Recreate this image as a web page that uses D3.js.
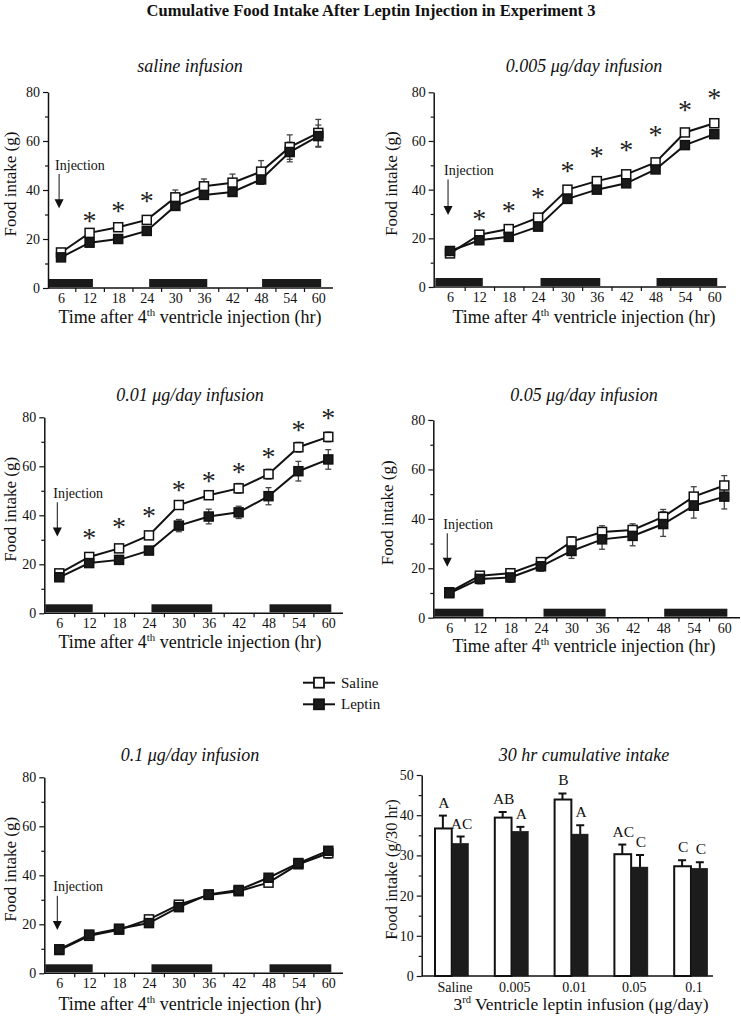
<!DOCTYPE html>
<html><head><meta charset="utf-8">
<script src="https://cdn.jsdelivr.net/npm/d3@7"></script>
<style>
body{margin:0;background:#fff}
svg{display:block}
text{font-family:"Liberation Serif","Times New Roman",serif;fill:#111}
</style>
</head><body>
<svg id="c" width="742" height="1020"></svg>
<script>
// ---------------- DATA ----------------
const hours = [6,12,18,24,30,36,42,48,54,60];
const xTickLabels = [6,12,18,24,30,36,42,48,54,60];
const xMinorTicks = [9,15,21,27,33,39,45,51,57];
const yTicks = [0,20,40,60,80];
const yMinorTicks = [10,30,50,70];
const panelTitles = ["saline infusion","0.005 \u03bcg/day infusion","0.01 \u03bcg/day infusion","0.05 \u03bcg/day infusion","0.1 \u03bcg/day infusion"];
const darkPeriods = [[3,12.7],[24.5,36.7],[48.2,60.6]];

// saline infusion
const saline1 = [14.5,22.5,24.8,27.8,37.0,41.5,43.0,47.5,57.5,63.3];
const leptin1 = [12.5,18.5,20.0,23.3,33.5,38.0,39.2,44.3,55.5,62.0];
const salineErr1 = [1,1.5,1.5,1.5,3,3,3.5,4.5,5,5.5];
const leptinErr1 = [1,1,1,1.5,1.5,1.5,1.5,2,4,4.5];
const starHours1 = [12,18,24];
const starY1 = [29,33,37];
// 0.005
const saline2 = [13.8,21.5,23.8,28.5,40.0,43.5,46.3,51.2,63.5,67.3];
const leptin2 = [14.8,19.2,20.6,24.8,36.2,40.0,42.6,48.3,58.3,62.8];
const salineErr2 = [0.8,1,1,1,1,1,1,1,1,1];
const leptinErr2 = [1,1,1,1,1,1,1,1,1,1];
const starHours2 = [12,18,24,30,36,42,48,54,60];
const starY2 = [29.6,32.8,38.6,49.3,55.4,57.9,64.1,74.5,79.2];
// 0.01
const saline3 = [16.3,23.0,26.5,31.8,44.2,48.2,51.0,56.8,67.8,72.0];
const leptin3 = [14.7,20.5,21.8,25.6,35.8,39.5,41.2,47.8,58.0,62.8];
const salineErr3 = [1,1,1,1,1,1.5,2,2,2,2];
const leptinErr3 = [1,1,1,1.5,2.5,3,2.5,3.5,4,4];
const starHours3 = [12,18,24,30,36,42,48,54,60];
const starY3 = [32.4,36.7,41.5,52.0,55.8,59.2,65.6,76.6,81.2];
// 0.05
const saline4 = [10.3,17.0,18.0,22.5,30.8,34.7,35.5,40.8,49.0,53.5];
const leptin4 = [9.9,15.7,16.3,20.8,27.0,31.7,33.1,37.9,45.3,49.0];
const salineErr4 = [1,1.5,1.5,1.5,2,2.5,2.5,3,4,4];
const leptinErr4 = [1,2,2,2,3,4,4,5,5,5];
const starHours4 = [];
const starY4 = [];
// 0.1
const saline5 = [9.5,15.3,17.8,22.0,28.0,32.0,33.5,37.0,44.5,49.0];
const leptin5 = [9.8,15.8,18.2,20.5,27.0,32.2,34.0,39.0,45.0,50.0];
const salineErr5 = [1,1,1,1,1,1,1,1,1.5,2];
const leptinErr5 = [1,1,1,1,1,1,1,1,1,1];
const starHours5 = [];
const starY5 = [];

// injection annotation (label value, arrow tip value) per panel
const injectionHour = 5.6;
const injLabelY = [50.2,47.9,49.0,37.8,35.3];
const injTipY = [32.6,29.6,31.3,20.6,17.7];

// bar chart
const barCats = ["Saline","0.005","0.01","0.05","0.1"];
const barSaline = [36.7,39.4,43.9,30.3,27.3];
const barLeptin = [33.0,36.0,35.3,27.1,26.8];
const barSalineErr = [3.2,1.4,1.5,2.4,1.5];
const barLeptinErr = [1.7,1.1,2.2,3.0,1.5];
const letterSaline = ["A","AB","B","AC","C"];
const letterLeptin = ["AC","A","A","C","C"];
const barYTicks = [0,10,20,30,40,50];
const barYMinor = [5,15,25,35,45];

// ---------------- LAYOUT ----------------
const svg = d3.select("#c");
const INK = "#111";
const SERIF = '"Liberation Serif","Times New Roman",serif';

svg.append("text").attr("x",371).attr("y",16).attr("text-anchor","middle")
  .attr("font-size",16.5).attr("font-weight","bold")
  .text("Cumulative Food Intake After Leptin Injection in Experiment 3");

const layouts = [
  {ax:48,  x6:61,    x60:318.3, xend:333, y0:288,   y80:92,    cx:190, titleY:72,  ylabX:10, lblY:323},
  {ax:433.7,x6:450,  x60:714.3, xend:726, y0:287,   y80:92.3,  cx:584, titleY:72,  ylabX:391, lblY:323},
  {ax:44.3,x6:59.3,  x60:328.3, xend:343, y0:613.3, y80:417.3, cx:190, titleY:401, ylabX:10, lblY:648},
  {ax:433.3,x6:449.3,x60:724.3, xend:740, y0:617.7, y80:420,   cx:584, titleY:401, ylabX:387, lblY:652},
  {ax:44.3,x6:59.3,  x60:328.3, xend:343, y0:973.3, y80:777.3, cx:190, titleY:761, ylabX:10, lblY:1010}
];
const panelData = [
  [saline1,leptin1,salineErr1,leptinErr1,starHours1,starY1],
  [saline2,leptin2,salineErr2,leptinErr2,starHours2,starY2],
  [saline3,leptin3,salineErr3,leptinErr3,starHours3,starY3],
  [saline4,leptin4,salineErr4,leptinErr4,starHours4,starY4],
  [saline5,leptin5,salineErr5,leptinErr5,starHours5,starY5]
];

function xLabel(g, x, y, size, pre, sup, post){
  const t = g.append("text").attr("x",x).attr("y",y).attr("text-anchor","middle").attr("font-size",size);
  t.append("tspan").text(pre);
  t.append("tspan").attr("font-size",size*0.6).attr("dy",-size*0.38).text(sup);
  t.append("tspan").attr("dy",size*0.38).text(post);
}

layouts.forEach((L,i)=>{
  const [sal,lep,salE,lepE,sH,sY] = panelData[i];
  const g = svg.append("g");
  const x = d3.scaleLinear().domain([6,60]).range([L.x6,L.x60]);
  const y = d3.scaleLinear().domain([0,80]).range([L.y0,L.y80]);

  // title
  g.append("text").attr("x",L.cx).attr("y",L.titleY).attr("text-anchor","middle")
    .attr("font-size",18).attr("font-style","italic").text(panelTitles[i]);

  // dark periods
  g.selectAll("rect.dark").data(darkPeriods).join("rect")
    .attr("x",d=>Math.max(x(d[0]),L.ax+1)).attr("width",d=>x(d[1])-Math.max(x(d[0]),L.ax+1))
    .attr("y",L.y0-9).attr("height",8).attr("fill","#1a1a1a");

  // axes
  const yAx = g.append("g").attr("transform",`translate(${L.ax},0)`)
    .call(d3.axisLeft(y).tickValues(yTicks).tickSize(5).tickPadding(3).tickSizeOuter(0));
  g.append("g").attr("transform",`translate(${L.ax},0)`)
    .call(d3.axisLeft(y).tickValues(yMinorTicks).tickSize(3).tickFormat("").tickSizeOuter(0))
    .select(".domain").remove();
  const xAx = g.append("g").attr("transform",`translate(0,${L.y0})`)
    .call(d3.axisBottom(x).tickValues(xTickLabels).tickSize(0).tickPadding(5));
  xAx.select(".domain").remove();
  g.append("g").attr("transform",`translate(0,${L.y0})`)
    .call(d3.axisBottom(x).tickValues(xMinorTicks).tickSize(4).tickFormat(""))
    .select(".domain").remove();
  g.append("line").attr("x1",L.ax).attr("x2",L.xend).attr("y1",L.y0).attr("y2",L.y0)
    .attr("stroke",INK).attr("stroke-width",1.5);
  g.selectAll(".tick text").attr("font-family",SERIF).attr("font-size",14).attr("fill",INK);
  g.selectAll(".tick line").attr("stroke",INK).attr("stroke-width",1.2);
  yAx.select(".domain").attr("stroke",INK).attr("stroke-width",1.5);

  // axis labels
  g.append("text").attr("transform",`translate(${L.ylabX},${(L.y0+L.y80)/2-6}) rotate(-90)`)
    .attr("text-anchor","middle").attr("dominant-baseline","central").attr("font-size",17).text("Food intake (g)");
  xLabel(g, L.cx, L.lblY, 18, "Time after 4", "th", " ventricle injection (hr)");

  // error bars
  const series = [{v:sal,e:salE,fill:"#fff"},{v:lep,e:lepE,fill:"#1a1a1a"}];
  series.forEach(s=>{
    const eg = g.append("g").attr("stroke","#444").attr("stroke-width",1.3);
    hours.forEach((h,k)=>{
      const cx = x(h), top=y(s.v[k]+s.e[k]), bot=y(s.v[k]-s.e[k]);
      eg.append("line").attr("x1",cx).attr("x2",cx).attr("y1",top).attr("y2",bot);
      eg.append("line").attr("x1",cx-3).attr("x2",cx+3).attr("y1",top).attr("y2",top);
      eg.append("line").attr("x1",cx-3).attr("x2",cx+3).attr("y1",bot).attr("y2",bot);
    });
  });
  // lines + markers
  const line = d3.line().x((d,k)=>x(hours[k])).y(d=>y(d));
  series.forEach(s=>{
    g.append("path").attr("d",line(s.v)).attr("fill","none").attr("stroke",INK).attr("stroke-width",2);
  });
  series.forEach(s=>{
    g.selectAll(null).data(s.v).join("rect")
      .attr("x",(d,k)=>x(hours[k])-4.5).attr("y",d=>y(d)-4.5).attr("width",9).attr("height",9)
      .attr("fill",s.fill).attr("stroke",INK).attr("stroke-width",1.5);
  });

  // asterisks
  g.selectAll(null).data(sY).join("text")
    .attr("x",(d,k)=>x(sH[k])).attr("y",d=>y(d)+13).attr("text-anchor","middle")
    .attr("font-size",28).style("fill","#222").text("*");

  // injection arrow
  const ax = x(injectionHour);
  g.append("text").attr("x",ax-4).attr("y",y(injLabelY[i])+4.5).attr("font-size",14).text("Injection");
  g.append("line").attr("x1",ax).attr("x2",ax).attr("y1",y(injLabelY[i])+9).attr("y2",y(injTipY[i])-8)
    .attr("stroke",INK).attr("stroke-width",1);
  const tip = y(injTipY[i]);
  g.append("path").attr("d",`M${ax-4.5},${tip-9}L${ax+4.5},${tip-9}L${ax},${tip}Z`).attr("fill",INK);
});

// ---------------- LEGEND ----------------
const leg = svg.append("g");
[["Saline","#fff",682.7],["Leptin","#1a1a1a",704.3]].forEach(([name,fill,yy])=>{
  leg.append("line").attr("x1",303).attr("x2",335).attr("y1",yy).attr("y2",yy).attr("stroke",INK).attr("stroke-width",2);
  leg.append("rect").attr("x",314).attr("y",yy-5).attr("width",10).attr("height",10)
    .attr("fill",fill).attr("stroke",INK).attr("stroke-width",1.8);
  leg.append("text").attr("x",341).attr("y",yy+5).attr("font-size",15).text(name);
});

// ---------------- BAR CHART ----------------
{
  const g = svg.append("g");
  const axX = 421.7, y0 = 976, y50 = 775;
  const y = d3.scaleLinear().domain([0,50]).range([y0,y50]);
  const xg = d3.scaleBand().domain(barCats).range([421,720]).padding(0);
  const xs = d3.scaleBand().domain(["s","l"]).range([13,48.5]).padding(0);

  g.append("text").attr("x",584).attr("y",761).attr("text-anchor","middle")
    .attr("font-size",18).attr("font-style","italic").text("30 hr cumulative intake");

  const yAx = g.append("g").attr("transform",`translate(${axX},0)`)
    .call(d3.axisLeft(y).tickValues(barYTicks).tickSize(5).tickPadding(3).tickSizeOuter(0));
  g.append("g").attr("transform",`translate(${axX},0)`)
    .call(d3.axisLeft(y).tickValues(barYMinor).tickSize(3).tickFormat("").tickSizeOuter(0))
    .select(".domain").remove();
  yAx.select(".domain").attr("stroke",INK).attr("stroke-width",1.5);
  g.append("line").attr("x1",axX).attr("x2",713).attr("y1",y0).attr("y2",y0).attr("stroke",INK).attr("stroke-width",1.5);
  const xa = g.append("g").attr("transform",`translate(4,${y0})`)
    .call(d3.axisBottom(xg).tickSize(0).tickPadding(6));
  xa.select(".domain").remove();
  g.selectAll(".tick text").attr("font-family",SERIF).attr("font-size",14).attr("fill",INK);
  g.selectAll(".tick line").attr("stroke",INK).attr("stroke-width",1.2);

  const groups = [
    {key:"s",vals:barSaline,errs:barSalineErr,letters:letterSaline,fill:"#fff"},
    {key:"l",vals:barLeptin,errs:barLeptinErr,letters:letterLeptin,fill:"#1c1c1c"}
  ];
  groups.forEach(gr=>{
    barCats.forEach((c,k)=>{
      const bx = xg(c)+xs(gr.key), bw = xs.bandwidth(), cx = bx+bw/2;
      const top = y(gr.vals[k]+gr.errs[k]);
      g.append("line").attr("x1",cx).attr("x2",cx).attr("y1",y(gr.vals[k])).attr("y2",top).attr("stroke",INK).attr("stroke-width",2);
      g.append("line").attr("x1",cx-4).attr("x2",cx+4).attr("y1",top).attr("y2",top).attr("stroke",INK).attr("stroke-width",2);
      g.append("rect").attr("x",bx+ (gr.key==="s"?1:0)).attr("y",y(gr.vals[k])).attr("width",bw-1)
        .attr("height",y0-y(gr.vals[k])).attr("fill",gr.fill).attr("stroke",INK).attr("stroke-width",gr.key==="s"?2:0.5);
      g.append("text").attr("x",cx+1).attr("y",top-8).attr("text-anchor","middle").attr("font-size",15.5).text(gr.letters[k]);
    });
  });

  g.append("text").attr("transform",`translate(391,${(y0+y50)/2-6}) rotate(-90)`)
    .attr("text-anchor","middle").attr("dominant-baseline","central").attr("font-size",16.5).text("Food intake (g/30 hr)");
  xLabel(g, 581, 1010, 17.5, "3", "rd", " Ventricle leptin infusion (\u03bcg/day)");
}
</script>
</body></html>
